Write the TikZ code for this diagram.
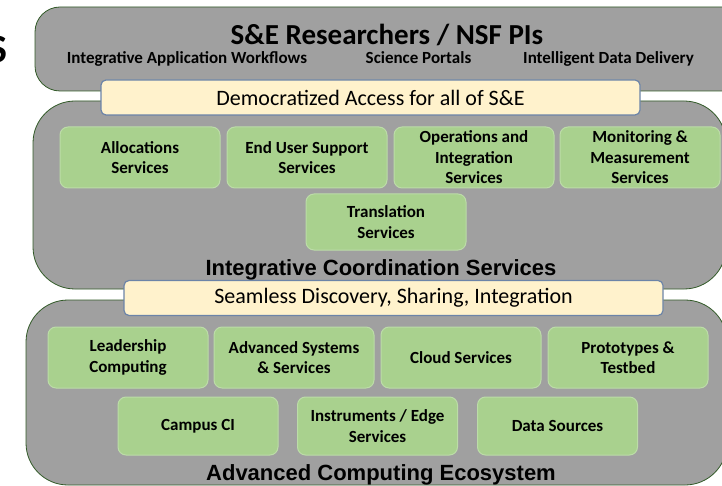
\documentclass[tikz,border=0pt]{standalone}
\usepackage{fontspec}
\setmainfont{Carlito}
\newfontfamily\headfont{Liberation Sans}
\definecolor{panelgray}{RGB}{160,160,160}
\definecolor{paneledge}{RGB}{50,90,40}
\definecolor{boxgreen}{RGB}{169,209,142}
\definecolor{boxedge}{RGB}{188,220,168}
\definecolor{barfill}{RGB}{255,242,204}
\definecolor{baredge}{RGB}{108,132,168}
\tikzset{
  panel/.style={fill=panelgray, draw=paneledge, line width=.8pt},
  bar/.style={fill=barfill, draw=baredge, line width=1.2pt, rounded corners=5pt,
    minimum width=539, minimum height=35, inner sep=0pt, font=\fontsize{22}{24}\selectfont},
  svc/.style={fill=boxgreen, draw=boxedge, line width=1pt, rounded corners=8pt,
    minimum width=160, minimum height=61, inner sep=0pt, align=center,
    font=\bfseries\fontsize{17}{20.5}\selectfont},
  layer/.style={anchor=base, inner sep=0pt, font=\headfont\bfseries\fontsize{22}{24}\selectfont},
  sub/.style={anchor=base, inner sep=0pt, font=\bfseries\fontsize{17}{19}\selectfont}
}
\begin{document}
\begin{tikzpicture}[x=1pt, y=-1pt]
\useasboundingbox (0,0) rectangle (722,486);
\begin{scope}
\clip (0,0) rectangle (722,486);
\node[anchor=base east, inner sep=0pt, font=\bfseries\fontsize{40}{44}\selectfont] (cut) at (8,63) {S};
\draw[panel, rounded corners=25] (35,7) rectangle (760,91);
\draw[panel, rounded corners=42] (33,101) rectangle (726,289);
\draw[panel, rounded corners=42] (26,300) rectangle (727,485);
\end{scope}
\node[anchor=base, inner sep=0pt, font=\bfseries\fontsize{29}{32}\selectfont] (users) at (387,45) {S\&E Researchers / NSF PIs};
\node[sub] (workflows) at (187,64) {Integrative Application Workflows};
\node[sub] (portals) at (418.5,64) {Science Portals};
\node[sub] (delivery) at (608.5,64) {Intelligent Data Delivery};
\node[bar] (access) at (370.5,97.5) {Democratized Access for all of S\&E};
\node[svc] (alloc) at (140,157.5) {Allocations\\Services};
\node[svc] (support) at (307,157.5) {End User Support\\Services};
\node[svc] (ops) at (474,157.5) {Operations and\\Integration\\Services};
\node[svc] (monitor) at (640,157.5) {Monitoring \&\\Measurement\\Services};
\node[svc, minimum height=56] (transl) at (386,222) {Translation\\Services};
\node[layer] (ics) at (381,275) {Integrative Coordination Services};
\node[bar] (seamless) at (393.5,298) {Seamless Discovery, Sharing, Integration};
\node[svc] (lead) at (128,357.5) {Leadership\\Computing};
\node[svc] (advsys) at (294,357.5) {Advanced Systems\\\& Services};
\node[svc] (cloud) at (461,357.5) {Cloud Services};
\node[svc] (proto) at (628,357.5) {Prototypes \&\\Testbed};
\node[svc, minimum height=58] (campus) at (198,426) {Campus CI};
\node[svc, minimum height=58] (instr) at (377.5,426) {Instruments / Edge\\Services};
\node[svc, minimum height=58] (data) at (557.5,426) {Data Sources};
\node[layer] (ace) at (381,480) {Advanced Computing Ecosystem};
\end{tikzpicture}
\end{document}
